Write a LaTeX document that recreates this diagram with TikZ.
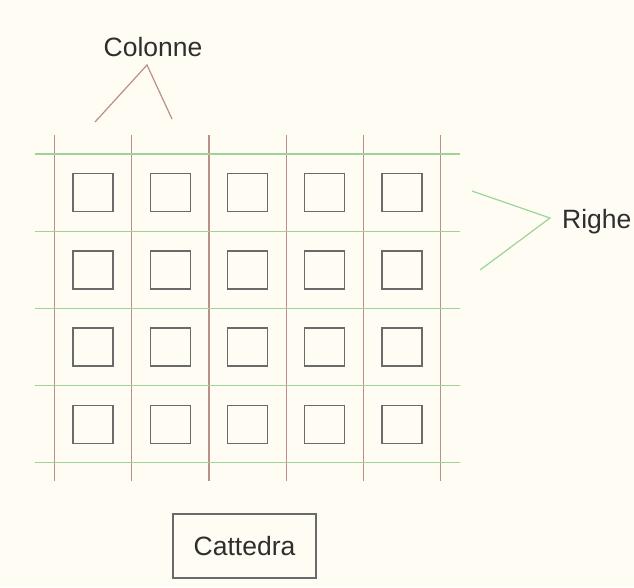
\documentclass[tikz,border=0pt]{standalone}
\usepackage{fontspec}
\setmainfont{Liberation Sans}
\definecolor{bg}{HTML}{FEFCF3}
\definecolor{colred}{HTML}{BC8E88}
\definecolor{rowgreen}{HTML}{9CD49A}
\definecolor{boxgrey}{HTML}{6A6A6A}
\definecolor{txt}{HTML}{2E2E2E}
\begin{document}
\begin{tikzpicture}[x=1pt,y=-1pt,
  colline/.style={draw=colred,line width=1.2pt},
  rowline/.style={draw=rowgreen,line width=1.2pt},
  desk/.style={draw=boxgrey,line width=1.4pt,minimum width=40pt,minimum height=38pt,inner sep=0pt},
  lbl/.style={font=\fontsize{26.5}{30}\selectfont,text=txt,inner sep=0pt},
  teach/.style={draw=boxgrey,line width=1.2pt,minimum width=143pt,minimum height=64pt,inner sep=0pt}]
\fill[bg] (0,0) rectangle (634,587);
\useasboundingbox (0,0) rectangle (634,587);
% columns
\foreach \i in {0,...,5}{
  \draw[colline] ({54.5+77.2*\i},135) -- ({54.5+77.2*\i},481);
}
% rows
\foreach \j in {0,...,4}{
  \draw[rowline] (35,{154+77.2*\j}) -- (460,{154+77.2*\j});
}
% desks
\foreach \i in {0,...,4}{
  \foreach \j in {0,...,3}{
    \node[desk] (d\i\j) at ({93.1+77.2*\i},{192.6+77.2*\j}) {};
  }
}
% labels
\node[lbl] (colonne) at (153,47) {Colonne};
\coordinate (capex) at (147,65);
\coordinate (cl) at (95,122);
\coordinate (cr) at (172,119);
\draw[colred,line width=1.2pt] (cl) -- (capex) -- (cr);
\node[lbl,anchor=west] (righe) at (562,222) {Righe};
\coordinate (rapex) at (550,218);
\coordinate (rt) at (472,191);
\coordinate (rb) at (480,270);
\draw[rowgreen,line width=1.2pt] (rt) -- (rapex) -- (rb);
\node[teach,lbl,draw=boxgrey] (cattedra) at (244.5,546) {Cattedra};
\end{tikzpicture}
\end{document}
